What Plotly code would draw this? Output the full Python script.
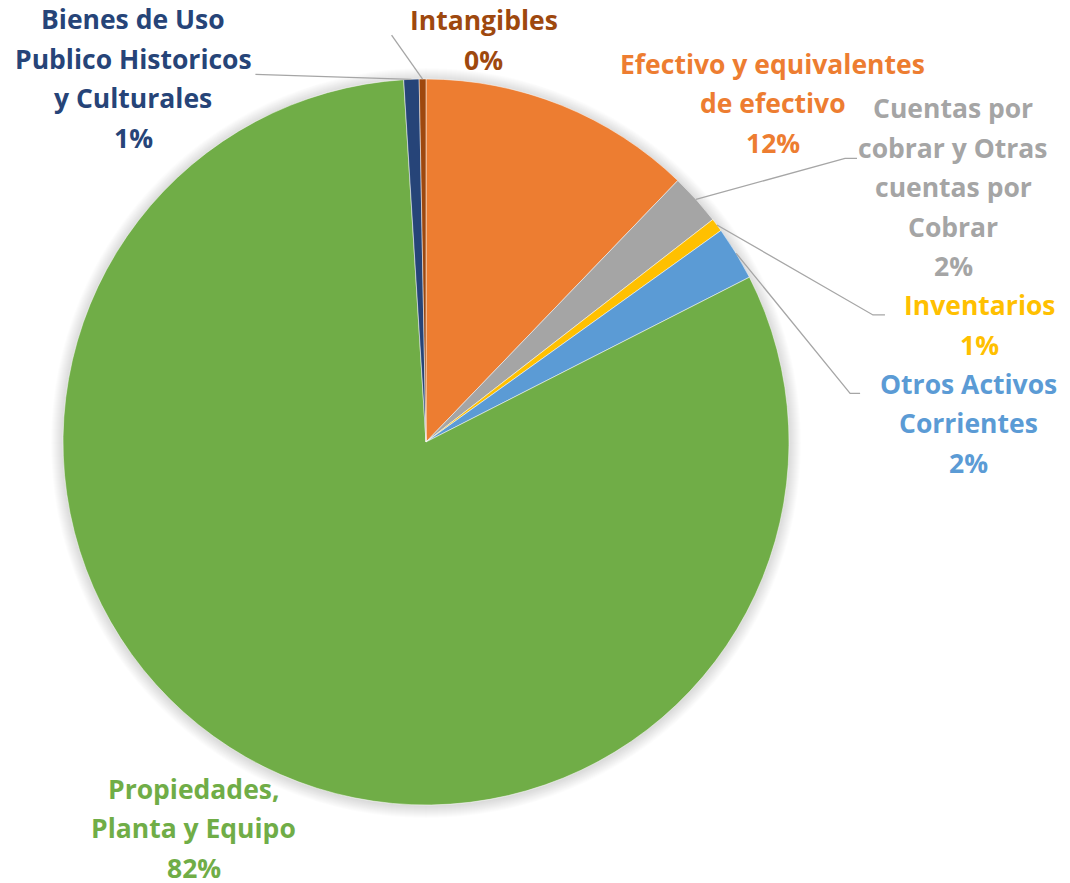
"""Composición del activo - gráfico circular con etiquetas externas."""

import math

import plotly.graph_objects as go

# ---- datos ----
categorias = [
    "Efectivo y equivalentes de efectivo",
    "Cuentas por cobrar y Otras cuentas por Cobrar",
    "Inventarios",
    "Otros Activos Corrientes",
    "Propiedades, Planta y Equipo",
    "Bienes de Uso Publico Historicos y Culturales",
    "Intangibles",
]
valores = [12.2, 2.3, 0.6, 2.4, 81.52, 0.68, 0.30]
lineas_etiqueta = [
    ["Efectivo y equivalentes", "de efectivo"],
    ["Cuentas por", "cobrar y Otras", "cuentas por", "Cobrar"],
    ["Inventarios"],
    ["Otros Activos", "Corrientes"],
    ["Propiedades,", "Planta y Equipo"],
    ["Bienes de Uso", "Publico Historicos", "y Culturales"],
    ["Intangibles"],
]
colores = ["#ED7D31", "#A5A5A5", "#FFC000", "#5B9BD5", "#70AD47", "#264478", "#9E480E"]

# ---- layout ----
W, H = 1070, 883
CX, CY, R = 426, 442, 363  # centro y radio del círculo (px)
FONT = "Open Sans"
FONT_SIZE = 26.5
LINE_H = 39.5

# desplazamiento (px, pantalla) del centro de la etiqueta respecto al borde del sector
offsets = [(211, -2), (257, -12), (263, 100), (232, 170), (-52, 71), (-278, -1), (61, -39)]
# líneas guía (px, pantalla) relativas al borde del sector; None = sin línea
guias = [
    None,
    [(149, -41), (161, -41)],
    [(156, 90), (168, 90)],
    [(114, 140), (124, 140)],
    None,
    [(-156, -5)],
    [(-31, -44)],
]

total = sum(valores)


def punto_borde(i):
    """Punto medio del arco exterior del sector i (px de pantalla)."""
    inicio = sum(valores[:i]) / total * 360
    medio = inicio + valores[i] / total * 360 / 2
    a = math.radians(medio)
    return CX + R * math.sin(a), CY - R * math.cos(a)


def to_paper(px, py):
    return px / W, 1 - py / H


fig = go.Figure(go.Pie(
    labels=categorias,
    values=valores,
    marker=dict(colors=colores, line=dict(color="white", width=0.5)),
    sort=False,
    direction="clockwise",
    rotation=0,
    textinfo="none",
    hoverinfo="label+percent",
    domain=dict(x=[(CX - R) / W, (CX + R) / W], y=[1 - (CY + R) / H, 1 - (CY - R) / H]),
    showlegend=False,
))

annotations = []
shapes = []

# sombra suave alrededor del círculo
for s in range(1, 13):
    rr = R + s
    shapes.append(dict(
        type="circle", xref="paper", yref="paper", layer="below",
        x0=(CX - rr) / W, x1=(CX + rr) / W,
        y0=1 - (CY + 1 + rr) / H, y1=1 - (CY + 1 - rr) / H,
        fillcolor="rgba(0,0,0,0.012)", line=dict(width=0),
    ))

for i, nombre in enumerate(categorias):
    ex, ey = punto_borde(i)
    px_, py_ = to_paper(ex, ey)
    pct = valores[i] / total * 100
    lineas = lineas_etiqueta[i] + [f"{pct:.0f}%"]
    n = len(lineas)
    dx, dy = offsets[i]
    for k, texto in enumerate(lineas):
        annotations.append(dict(
            x=px_, y=py_, xref="paper", yref="paper",
            text=f"<b>{texto}</b>", showarrow=False,
            xanchor="center", yanchor="middle",
            xshift=dx, yshift=-(dy + (k - (n - 1) / 2) * LINE_H),
            font=dict(family=FONT, size=FONT_SIZE, color=colores[i]),
        ))
    if guias[i]:
        pts = [(ex, ey)] + [(ex + gx, ey + gy) for gx, gy in guias[i]]
        path = ""
        for j, (qx, qy) in enumerate(pts):
            ux, uy = to_paper(qx, qy)
            path += ("M" if j == 0 else "L") + f" {ux:.5f},{uy:.5f} "
        shapes.append(dict(
            type="path", xref="paper", yref="paper", path=path.strip(),
            line=dict(color="#A6A6A6", width=1.3),
        ))

fig.update_layout(
    width=W,
    height=H,
    margin=dict(l=0, r=0, t=0, b=0),
    paper_bgcolor="white",
    plot_bgcolor="white",
    annotations=annotations,
    shapes=shapes,
)

# sin margen del <body>, para que la figura ocupe exactamente la ventana
fig.write_html(
    "out.html",
    config={"displayModeBar": False},
    post_script="document.body.style.margin='0';",
)
